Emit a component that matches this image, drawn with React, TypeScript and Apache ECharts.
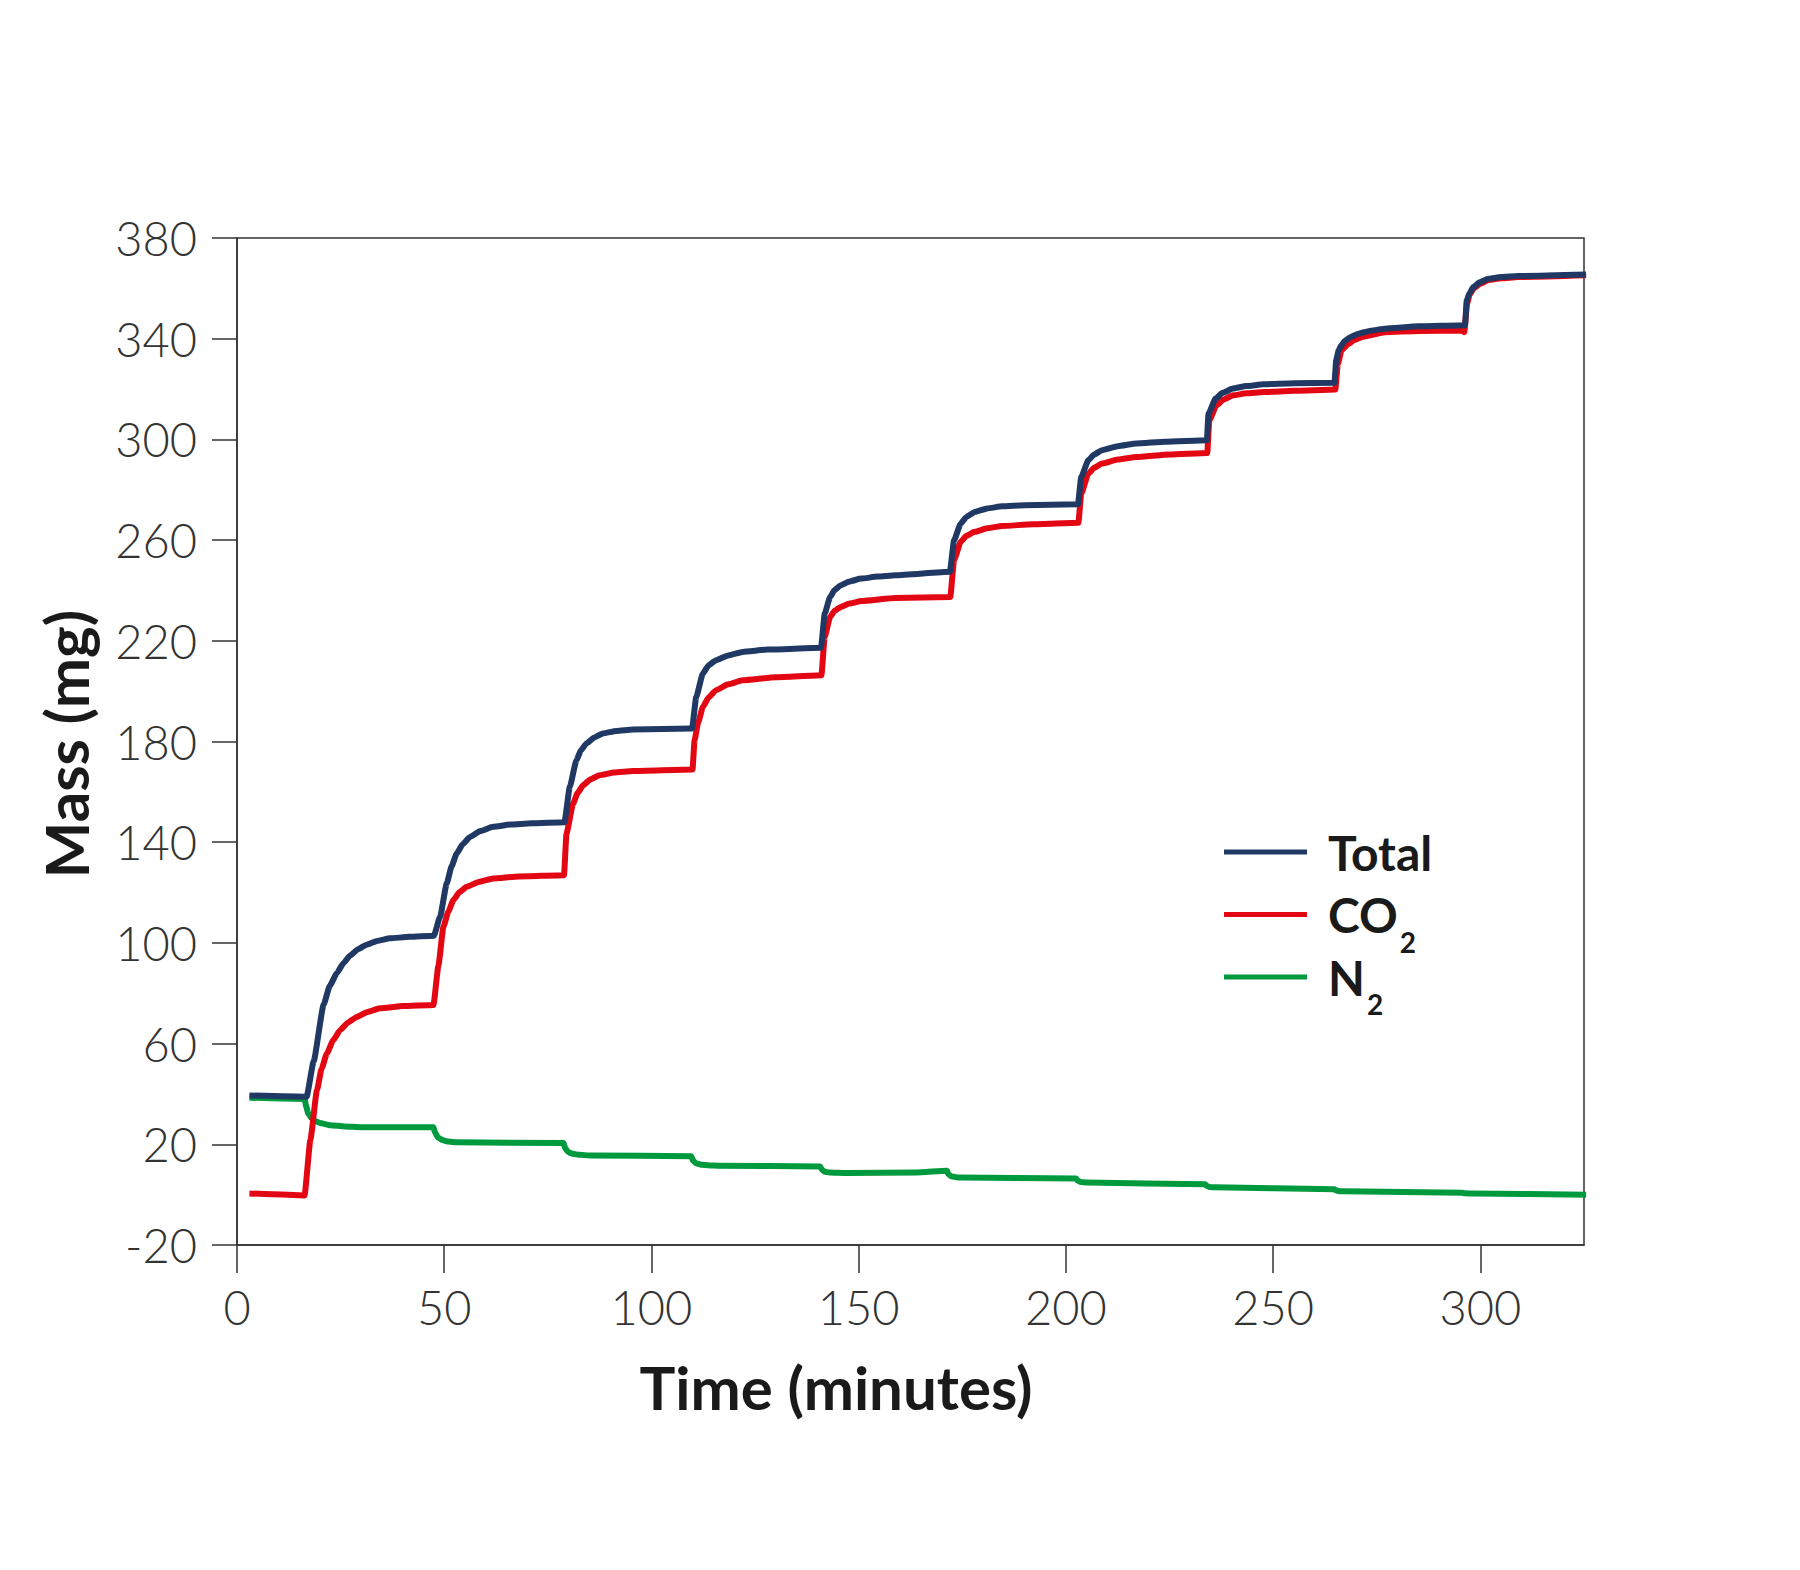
import React, { useEffect, useRef } from "react";
import * as echarts from "echarts";

// ---- data (time in minutes, mass in mg) ----
const totalPoints: [number, number][] = [
  [3, 39.4], [16.8, 38.9],
  [18.5, 53], [20.9, 75.5], [22.4, 83], [24.1, 88], [25.7, 92], [27.3, 95], [29.2, 97.5], [31.3, 99.3], [33.8, 100.8], [36.9, 101.8], [41.5, 102.4], [47.5, 102.8],
  [49, 110.4], [50.6, 123.6], [51.8, 130.5], [53, 135.5], [54.5, 139.3], [56.2, 142.1], [58.7, 144.4], [61.8, 146.1], [66, 147], [71, 147.5], [79, 147.9],
  [80.3, 162], [81.9, 172.6], [83, 176.5], [84.3, 179.2], [86.2, 181.6], [88.3, 183.2], [91.5, 184.2], [95.5, 184.8], [109.8, 185.2],
  [110.8, 197.7], [112.4, 207], [113.8, 210.3], [115.6, 212.3], [118.5, 214.2], [122, 215.6], [128, 216.5], [140.9, 217.2],
  [141.8, 230.8], [143.1, 237.4], [144.2, 240.2], [145.6, 242], [147.8, 243.6], [150.6, 244.7], [154.5, 245.5], [158.9, 246], [172, 247.4],
  [173, 259.9], [174.6, 266.5], [176, 269.2], [178, 271.2], [181, 272.6], [184.6, 273.4], [190, 273.8], [202.9, 274.2],
  [203.7, 285.1], [205.4, 291.7], [206.8, 294], [208.7, 295.7], [212.5, 297.3], [217, 298.4], [224, 299.1], [234, 299.7],
  [234.4, 310.2], [236.1, 316.2], [237.8, 318.5], [240.3, 320.2], [243.5, 321.2], [247.7, 321.9], [255, 322.3], [264.8, 322.5],
  [265.2, 331.4], [265.8, 335.4], [266.5, 337.5], [267.4, 339.3], [268.8, 340.8], [270.6, 342], [273.5, 343.2], [277, 344], [285, 344.9], [296.3, 345.3],
  [296.7, 355.2], [297.4, 358.2], [298.3, 360.5], [299.8, 362.4], [301.9, 363.8], [305, 364.5], [309.1, 364.9], [325.5, 365.5],
];

const co2Points: [number, number][] = [
  [3, 0.5], [16.3, -0.3],
  [17.7, 21.7], [19.3, 41.5], [20.4, 50], [21.7, 56.1], [23.2, 61.3], [24.9, 65.4], [26.8, 68.4], [28.9, 70.6], [31.5, 72.6], [34.5, 74], [40, 74.9], [47.4, 75.3],
  [48.6, 91], [49.8, 106.4], [51, 112.5], [52.2, 117], [53.7, 120.2], [55.4, 122.3], [58.3, 124.2], [61.8, 125.6], [68, 126.4], [78.9, 126.9],
  [79.5, 143.5], [81.1, 155.4], [82.2, 159.6], [83.5, 162.6], [85.3, 165], [87.5, 166.6], [91, 167.7], [95.5, 168.3], [109.9, 168.9],
  [110.4, 180.5], [111.3, 187.8], [112.4, 193.7], [113.8, 197.6], [115.6, 200.4], [118.5, 202.7], [122, 204.3], [130, 205.5], [141, 206.3],
  [141.8, 221.5], [143.1, 229.5], [144.2, 231.9], [145.6, 233.4], [147.8, 234.8], [150.6, 235.8], [158.9, 237], [172.1, 237.4],
  [173, 252], [174.6, 259.3], [176, 261.7], [178, 263.3], [181, 264.7], [184.6, 265.6], [192, 266.3], [203, 266.9],
  [203.7, 278.5], [205.4, 286.4], [206.8, 288.7], [208.7, 290.4], [212.5, 292], [217, 293], [225, 294], [234.1, 294.6],
  [234.6, 307.6], [236.3, 313.5], [238, 315.8], [240.3, 317.5], [243.5, 318.3], [247.7, 318.8], [255, 319.3], [265, 319.8],
  [265.6, 330], [266.5, 335.4], [268.2, 338], [269.6, 339.5], [271.4, 340.7], [277, 342.6], [285, 343.1], [295.6, 343.3], [296.1, 342.6],
  [296.8, 353.9], [297.4, 357.5], [298.4, 360], [300, 361.9], [302, 363.3], [305, 364], [309.1, 364.5], [325.5, 365.2],
];

const n2Points: [number, number][] = [
  [3, 38.5], [16.3, 38],
  [16.7, 35], [17.2, 32.2], [17.9, 30.5], [18.8, 29.3], [20, 28.5], [22.5, 27.6], [26, 27.1], [30, 26.8], [47.4, 26.8],
  [47.8, 24.6], [48.5, 22.7], [49.5, 21.7], [51, 21.1], [53, 20.8], [78.8, 20.5],
  [79.2, 18.4], [79.9, 16.9], [81, 16.2], [82.7, 15.8], [85, 15.6], [109.6, 15.3],
  [110, 13.6], [110.7, 12.5], [112, 11.9], [114, 11.6], [116, 11.5], [140.7, 11.2],
  [141.1, 10], [141.8, 9.1], [143, 8.8], [147, 8.6], [164, 8.8], [171.3, 9.5],
  [171.6, 8.2], [172.3, 7.3], [174, 6.8], [202.5, 6.4],
  [202.8, 5.6], [203.6, 5], [205, 4.8], [233.6, 4.1],
  [233.9, 3.5], [234.8, 3], [236, 2.9], [264.8, 2.1],
  [265.1, 1.7], [266, 1.4], [267, 1.35], [295.6, 0.8],
  [296, 0.6], [297, 0.5], [298, 0.45], [325.5, 0],
];

const xTicks = [0, 50, 100, 150, 200, 250, 300];
const yTicks = [-20, 20, 60, 100, 140, 180, 220, 260, 300, 340, 380];

const seriesNames = ["Total", "CO2", "N2"];
const legendMain = ["Total", "CO", "N"];
const legendSub = ["", "2", "2"];
const seriesColors = ["#1f3864", "#e30613", "#009a3e"];

const xTitle = "Time (minutes)";
const yTitle = "Mass (mg)";

export default function App() {
  const ref = useRef<HTMLDivElement>(null);
  useEffect(() => {
    if (!ref.current) return;
    const chart = echarts.init(ref.current, undefined, { renderer: "svg" });

    const axisColor = "#333333";
    const labelFont = { fontFamily: "Lato", fontWeight: 300 as any, fontSize: 47, color: "#333333" };
    const titleFont = "bold 60px Lato";
    const legendFontSize = 48;

    const canvas = document.createElement("canvas");
    const ctx = canvas.getContext("2d")!;
    ctx.font = `bold ${legendFontSize}px Lato`;

    const legendX0 = 1224;
    const legendX1 = 1307;
    const legendTextX = 1328;
    const legendY0 = 852;
    const legendDy = 62.5;

    const legendGraphics: any[] = [];
    legendMain.forEach((label, i) => {
      const y = legendY0 + i * legendDy;
      legendGraphics.push({
        type: "line",
        shape: { x1: legendX0, y1: y, x2: legendX1, y2: y },
        style: { stroke: seriesColors[i], lineWidth: 5 },
      });
      legendGraphics.push({
        type: "text",
        x: legendTextX,
        y,
        style: {
          text: label,
          font: `bold ${legendFontSize}px Lato`,
          fill: "#1a1a1a",
          textAlign: "left",
          textVerticalAlign: "middle",
        },
      });
      if (legendSub[i]) {
        const w = ctx.measureText(label).width;
        legendGraphics.push({
          type: "text",
          x: legendTextX + w + 2,
          y: y + 27,
          style: {
            text: legendSub[i],
            font: "bold 28px Lato",
            fill: "#1a1a1a",
            textAlign: "left",
            textVerticalAlign: "middle",
          },
        });
      }
    });

    const lineSeries = (idx: number, data: [number, number][], z: number) => ({
      name: seriesNames[idx],
      type: "line",
      data,
      showSymbol: false,
      symbol: "none",
      clip: false,
      smooth: 0.15,
      smoothMonotone: "x",
      z,
      lineStyle: { color: seriesColors[idx], width: 6, join: "round", cap: "butt" },
      itemStyle: { color: seriesColors[idx] },
    });

    chart.setOption({
      animation: false,
      backgroundColor: "#ffffff",
      grid: {
        left: 237,
        top: 238,
        right: 216,
        bottom: 325,
        show: true,
        borderColor: axisColor,
        borderWidth: 1.5,
        backgroundColor: "transparent",
        containLabel: false,
      },
      xAxis: {
        type: "value",
        min: 0,
        max: 325,
        axisLine: { show: true, onZero: false, lineStyle: { color: axisColor, width: 1.5 } },
        axisTick: { show: true, inside: false, length: 28, customValues: xTicks, lineStyle: { color: axisColor, width: 1.5 } },
        axisLabel: { ...labelFont, margin: 38, customValues: xTicks },
        splitLine: { show: false },
      },
      yAxis: {
        type: "value",
        min: -20,
        max: 380,
        axisLine: { show: true, onZero: false, lineStyle: { color: axisColor, width: 1.5 } },
        axisTick: { show: true, inside: false, length: 25, customValues: yTicks, lineStyle: { color: axisColor, width: 1.5 } },
        axisLabel: { ...labelFont, margin: 40, customValues: yTicks },
        splitLine: { show: false },
      },
      series: [lineSeries(2, n2Points, 2), lineSeries(1, co2Points, 3), lineSeries(0, totalPoints, 4)],
      graphic: [
        {
          type: "text",
          x: 836,
          y: 1387,
          style: { text: xTitle, font: titleFont, fill: "#1a1a1a", textAlign: "center", textVerticalAlign: "middle" },
        },
        {
          type: "text",
          x: 66,
          y: 744,
          rotation: Math.PI / 2,
          style: { text: yTitle, font: titleFont, fill: "#1a1a1a", textAlign: "center", textVerticalAlign: "middle" },
        },
        ...legendGraphics,
      ],
    });

    return () => chart.dispose();
  }, []);

  return (
    <div
      ref={ref}
      style={{ position: "fixed", left: 0, top: 0, width: 1800, height: 1570, background: "#fff" }}
    />
  );
}
